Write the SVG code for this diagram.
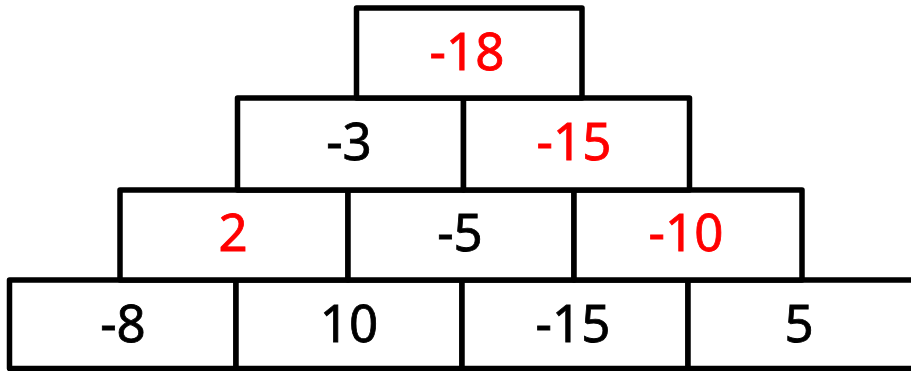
<svg xmlns="http://www.w3.org/2000/svg" width="911" height="371" viewBox="0 0 911 371">
<style>
.box{fill:#fff;stroke:#000;stroke-width:5.5;stroke-linejoin:round}
text{font-family:"Noto Sans","Open Sans",sans-serif;font-size:51px;text-anchor:middle;stroke-width:0.8}
.k{fill:#000;stroke:#000}.r{fill:#ff0000;stroke:#ff0000}
</style>
<rect width="911" height="371" fill="#fff"/>
<g id="row4">
<g id="n-8"><rect class="box" x="9.5" y="280" width="226.5" height="88.5"/><text class="k" x="123" y="341.5">-8</text></g>
<g id="n10"><rect class="box" x="236" y="280" width="226" height="88.5"/><text class="k" x="349" y="341.5">10</text></g>
<g id="n-15b"><rect class="box" x="462" y="280" width="226" height="88.5"/><text class="k" x="573" y="341.5">-15</text></g>
<g id="n5"><rect class="box" x="688" y="280" width="230" height="88.5"/><text class="k" x="799" y="341.5">5</text></g>
</g>
<g id="row3">
<g id="n2"><rect class="box" x="120" y="190" width="228" height="90"/><text class="r" x="233" y="251">2</text></g>
<g id="n-5"><rect class="box" x="348" y="190" width="226" height="90"/><text class="k" x="460" y="251">-5</text></g>
<g id="n-10"><rect class="box" x="574" y="190" width="228" height="90"/><text class="r" x="686" y="251">-10</text></g>
</g>
<g id="row2">
<g id="n-3"><rect class="box" x="237.5" y="98" width="226" height="92"/><text class="k" x="349" y="160">-3</text></g>
<g id="n-15"><rect class="box" x="463.5" y="98" width="226" height="92"/><text class="r" x="574" y="160">-15</text></g>
</g>
<g id="row1">
<g id="n-18"><rect class="box" x="356.5" y="8" width="225.5" height="90"/><text class="r" x="467" y="70">-18</text></g>
</g>
<g id="connectors"></g>
</svg>
